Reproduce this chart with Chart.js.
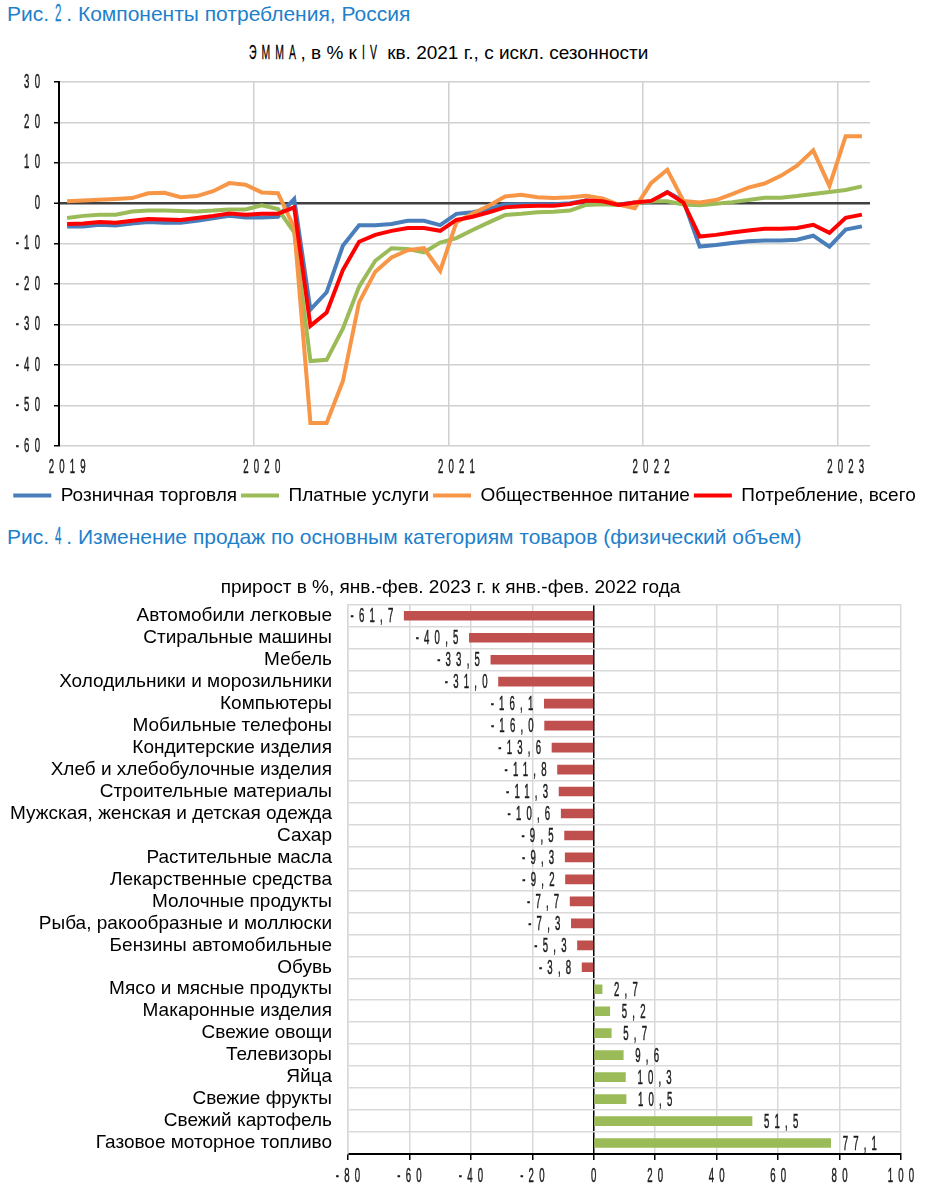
<!DOCTYPE html>
<html lang="ru">
<head>
<meta charset="utf-8">
<title>Компоненты потребления, Россия</title>
<script src="https://cdn.jsdelivr.net/npm/chart.js@4/dist/chart.umd.min.js"></script>
<style>
  body { margin: 0; background: #fff; font-family: 'Liberation Sans', Arial, sans-serif; }
  .page { position: relative; width: 929px; height: 1200px; overflow: hidden; }
  .fig-title { position: absolute; left: 7px; font-size: 21px; line-height: 24px; color: #1E7FCB; white-space: nowrap; }
  .subtitle { position: absolute; left: -16px; width: 929px; text-align: center; font-size: 19px; line-height: 22px; color: #000; white-space: nowrap; }
  .narrow { display: inline-block; font-size: 1.1em; line-height: 1; letter-spacing: 10px; transform: scaleX(0.5); transform-origin: 0 50%; -webkit-text-stroke: 0.3px currentColor; }
  .box { position: absolute; left: 0; width: 929px; }
</style>
</head>
<body>
<div class="page">
  <div class="fig-title" style="top: 2px">Рис. <span class="narrow">2</span>. Компоненты потребления, Россия</div>
  <div class="subtitle" style="top: 42px"><span class="narrow">ЭММА</span>, в % к <span class="narrow">IV</span> кв. 2021 г., с искл. сезонности</div>
  <div class="box" style="top: 70px; height: 445px"><canvas id="consumption-chart"></canvas></div>

  <div class="fig-title" style="top: 525px">Рис. <span class="narrow">4</span>. Изменение продаж по основным категориям товаров (физический объем)</div>
  <div class="box" style="top: 570px; height: 630px"><canvas id="sales-chart"></canvas></div>
</div>

<script>
// Рис. 2: monthly, Jan 2019 .. Feb 2023
const years = ['2019', '2020', '2021', '2022', '2023']
const retailTrade = [
  -5.7, -5.7, -5.3, -5.5, -5.0, -4.6, -4.8, -4.8, -4.3, -3.7, -3.1, -3.5,
  -3.5, -3.3, 1.1, -26.3, -22.0, -10.5, -5.4, -5.4, -5.1, -4.3, -4.3, -5.4,
  -2.6, -2.2, -1.4, -0.3, -0.2, -0.2, -0.2, 0.0, 0.7, 0.5, -0.3, 0.2,
  0.3, 2.8, 0.6, -10.7, -10.3, -9.8, -9.4, -9.2, -9.2, -9.0, -8.0, -10.7,
  -6.5, -5.7,
]
const paidServices = [
  -3.6, -3.1, -2.8, -2.8, -2.0, -1.8, -1.8, -1.9, -2.0, -1.8, -1.5, -1.5,
  -0.5, -1.4, -7.2, -39.0, -38.7, -31.0, -20.6, -14.2, -11.1, -11.3, -12.1, -9.7,
  -8.6, -6.6, -4.7, -2.9, -2.6, -2.2, -2.1, -1.8, -0.4, -0.2, -0.4, 0.0,
  0.5, 0.5, -0.3, -0.5, -0.1, 0.3, 0.8, 1.4, 1.4, 1.8, 2.3, 2.8,
  3.3, 4.2,
]
const catering = [
  0.5, 0.7, 0.9, 1.1, 1.3, 2.5, 2.6, 1.5, 1.8, 3.0, 5.0, 4.6,
  2.7, 2.5, -6.0, -54.3, -54.3, -44.0, -24.5, -16.9, -13.4, -11.6, -11.1, -16.7,
  -4.7, -2.5, -0.6, 1.7, 2.1, 1.5, 1.3, 1.5, 1.9, 1.2, -0.3, -1.2,
  5.0, 8.3, 0.6, 0.2, 0.8, 2.3, 3.9, 4.9, 6.8, 9.3, 13.1, 4.3,
  16.6, 16.6,
]
const consumptionTotal = [
  -5.1, -5.0, -4.6, -4.8, -4.3, -3.9, -4.0, -4.1, -3.6, -3.1, -2.5, -2.8,
  -2.6, -2.6, -1.0, -30.3, -27.0, -16.5, -9.5, -7.8, -6.8, -6.1, -6.1, -6.8,
  -4.1, -3.3, -2.2, -1.0, -0.7, -0.6, -0.6, -0.2, 0.7, 0.5, -0.4, 0.2,
  0.6, 2.7, 0.2, -8.2, -7.8, -7.2, -6.7, -6.3, -6.3, -6.1, -5.3, -7.3,
  -3.6, -2.8,
]

// Рис. 4: прирост в %, янв.-фев. 2023 г. к янв.-фев. 2022 года
const categories = [
  'Автомобили легковые', 'Стиральные машины', 'Мебель', 'Холодильники и морозильники',
  'Компьютеры', 'Мобильные телефоны', 'Кондитерские изделия', 'Хлеб и хлебобулочные изделия',
  'Строительные материалы', 'Мужская, женская и детская одежда', 'Сахар', 'Растительные масла',
  'Лекарственные средства', 'Молочные продукты', 'Рыба, ракообразные и моллюски',
  'Бензины автомобильные', 'Обувь', 'Мясо и мясные продукты', 'Макаронные изделия',
  'Свежие овощи', 'Телевизоры', 'Яйца', 'Свежие фрукты', 'Свежий картофель',
  'Газовое моторное топливо',
]
const salesChange = [
  -61.7, -40.5, -33.5, -31.0, -16.1, -16.0, -13.6, -11.8, -11.3, -10.6, -9.5, -9.3,
  -9.2, -7.7, -7.3, -5.3, -3.8, 2.7, 5.2, 5.7, 9.6, 10.3, 10.5, 51.5, 77.1,
]

const SANS = "'Liberation Sans', Arial, sans-serif"
const GRID = '#d0d0d0'
const NUM_COLOR = '#1a1a1a'
const NUM_SIZE = 20
// numbers in the source are set in a tall condensed face with wide tracking
const NARROW_SCALE = 0.48
const NARROW_SPACING = 5.2
const Y_LABEL_GAP = 14

const drawNarrowText = (ctx, text, x, y, align, baseline, color, size) => {
  const shift = align === 'right' ? NARROW_SPACING : align === 'center' ? NARROW_SPACING / 2 : 0
  ctx.save()
  ctx.translate(x + shift, y)
  ctx.scale(NARROW_SCALE, 1)
  ctx.font = `${size}px ${SANS}`
  ctx.letterSpacing = `${NARROW_SPACING / NARROW_SCALE}px`
  ctx.textAlign = align
  ctx.textBaseline = baseline
  ctx.fillStyle = color
  ctx.strokeStyle = color
  ctx.lineWidth = 0.5
  ctx.fillText(text, 0, 0)
  ctx.strokeText(text, 0, 0)
  ctx.restore()
}

const drawNarrowTicks = (scale, chartArea) => {
  // vertical axes keep their tick padding at 0 (it would push the plot down), the gap is added here
  const gap = scale.isHorizontal() ? 0 : Y_LABEL_GAP
  for (const item of scale.getLabelItems(chartArea)) {
    const { label, textOffset, options } = item
    if (label === '' || label == null) continue
    const [x, y] = options.translation
    drawNarrowText(scale.ctx, String(label), x - gap, y + textOffset, options.textAlign,
      options.textBaseline, options.color, item.font.size)
  }
}

class NarrowLinearScale extends Chart.LinearScale {
  static id = 'narrowLinear'
  drawLabels(chartArea) { drawNarrowTicks(this, chartArea) }
}

class NarrowCategoryScale extends Chart.CategoryScale {
  static id = 'narrowCategory'
  drawLabels(chartArea) { drawNarrowTicks(this, chartArea) }
}

Chart.register(NarrowLinearScale, NarrowCategoryScale)
Chart.defaults.animation = false
Chart.defaults.font.family = SANS

document.querySelectorAll('.narrow').forEach(el => {
  el.style.marginRight = `${-el.offsetWidth * 0.5}px`
})

const monthLabels = years
  .flatMap(year => ['01', '02', '03', '04', '05', '06', '07', '08', '09', '10', '11', '12'].map(m => `${m}.${year}`))
  .slice(0, retailTrade.length)

const lineSeries = [
  { label: 'Розничная торговля', data: retailTrade, color: '#4A7EBB', order: 3 },
  { label: 'Платные услуги', data: paidServices, color: '#9BBB59', order: 2 },
  { label: 'Общественное питание', data: catering, color: '#F79646', order: 1 },
  { label: 'Потребление, всего', data: consumptionTotal, color: '#FF0000', order: 0 },
]

new Chart(document.querySelector('#consumption-chart'), {
  type: 'line',
  data: {
    labels: monthLabels,
    datasets: lineSeries.map(s => ({
      label: s.label,
      data: s.data,
      borderColor: s.color,
      backgroundColor: s.color,
      borderWidth: 4,
      pointRadius: 0,
      tension: 0,
      order: s.order,
      yAxisID: 'y',
    })),
  },
  options: {
    responsive: true,
    maintainAspectRatio: false,
    layout: { padding: { top: 12, right: 0, bottom: 0, left: 0 } },
    plugins: {
      tooltip: { enabled: false },
      legend: {
        position: 'bottom',
        labels: {
          boxWidth: 38,
          boxHeight: 4,
          padding: 4,
          color: '#000',
          font: { size: 19, family: SANS },
          sort: (a, b) => a.datasetIndex - b.datasetIndex,
          generateLabels: (chart) => Chart.defaults.plugins.legend.labels.generateLabels(chart)
            .map(item => ({ ...item, fillStyle: item.strokeStyle, lineWidth: 0 })),
        },
      },
    },
    scales: {
      x: {
        type: 'narrowCategory',
        offset: true,
        afterFit: (scale) => { scale.height = 36 },
        grid: {
          offset: true,
          drawTicks: false,
          lineWidth: 1.5,
          color: (c) => (c.index > 0 && c.index % 12 === 0 ? GRID : 'transparent'),
        },
        border: { display: false },
        ticks: {
          autoSkip: false,
          maxRotation: 0,
          padding: 9,
          color: NUM_COLOR,
          font: { size: NUM_SIZE },
          callback: (value, index) => (index % 12 === 0 ? monthLabels[index].slice(3) : ''),
        },
      },
      y: {
        type: 'narrowLinear',
        min: -60,
        max: 30,
        afterFit: (scale) => {
          scale.width = 59
          scale.paddingTop = 0
          scale.paddingBottom = 0
        },
        grid: {
          tickLength: 5,
          tickColor: '#000',
          tickWidth: 1.5,
          color: (c) => (c.tick.value === 0 ? '#404040' : GRID),
          lineWidth: (c) => (c.tick.value === 0 ? 2.5 : 1.5),
        },
        border: { color: '#000', width: 2 },
        ticks: {
          stepSize: 10,
          padding: 0,
          color: NUM_COLOR,
          font: { size: NUM_SIZE },
        },
      },
      // empty right margin, keeps the legend the full width of the canvas
      rightMargin: {
        position: 'right',
        afterFit: (scale) => { scale.width = 59 },
        grid: { display: false },
        border: { display: false },
        ticks: { display: false },
      },
    },
  },
})

const barValueLabels = {
  id: 'barValueLabels',
  afterDatasetsDraw: (chart) => {
    chart.getDatasetMeta(0).data.forEach((bar, i) => {
      const value = salesChange[i]
      const text = value.toFixed(1).replace('.', ',')
      if (value < 0) {
        drawNarrowText(chart.ctx, text, bar.x - 11, bar.y + 1, 'right', 'middle', NUM_COLOR, NUM_SIZE)
      } else {
        drawNarrowText(chart.ctx, text, bar.x + 12, bar.y + 1, 'left', 'middle', NUM_COLOR, NUM_SIZE)
      }
    })
  },
}

new Chart(document.querySelector('#sales-chart'), {
  type: 'bar',
  data: {
    labels: categories,
    datasets: [{
      data: salesChange,
      backgroundColor: (c) => (c.raw < 0 ? '#C0504D' : '#9BBB59'),
      barThickness: 9,
    }],
  },
  plugins: [barValueLabels],
  options: {
    indexAxis: 'y',
    responsive: true,
    maintainAspectRatio: false,
    layout: { padding: { top: 0, right: 28, bottom: 16, left: 0 } },
    plugins: {
      legend: { display: false },
      tooltip: { enabled: false },
      title: {
        display: true,
        text: 'прирост в %, янв.-фев. 2023 г. к янв.-фев. 2022 года',
        color: '#000',
        font: { size: 19, weight: 'normal', family: SANS },
        padding: { top: 6, bottom: 6 },
      },
    },
    scales: {
      x: {
        type: 'narrowLinear',
        min: -80,
        max: 100,
        afterFit: (scale) => { scale.height = 30 },
        grid: {
          tickLength: 6,
          tickColor: '#000',
          tickWidth: 1.5,
          lineWidth: 1.5,
          color: (c) => (c.tick.value === 0 ? '#000' : '#d9d9d9'),
        },
        border: { color: '#000', width: 2 },
        ticks: {
          stepSize: 20,
          padding: 4,
          color: NUM_COLOR,
          font: { size: NUM_SIZE },
        },
      },
      y: {
        afterFit: (scale) => { scale.width = 348 },
        grid: { offset: true, drawTicks: false, color: '#d9d9d9', lineWidth: 1.5 },
        border: { color: '#d9d9d9', width: 1.5 },
        ticks: {
          autoSkip: false,
          padding: 16,
          color: '#000',
          font: { size: 19, family: SANS },
        },
      },
    },
  },
})
</script>
</body>
</html>
